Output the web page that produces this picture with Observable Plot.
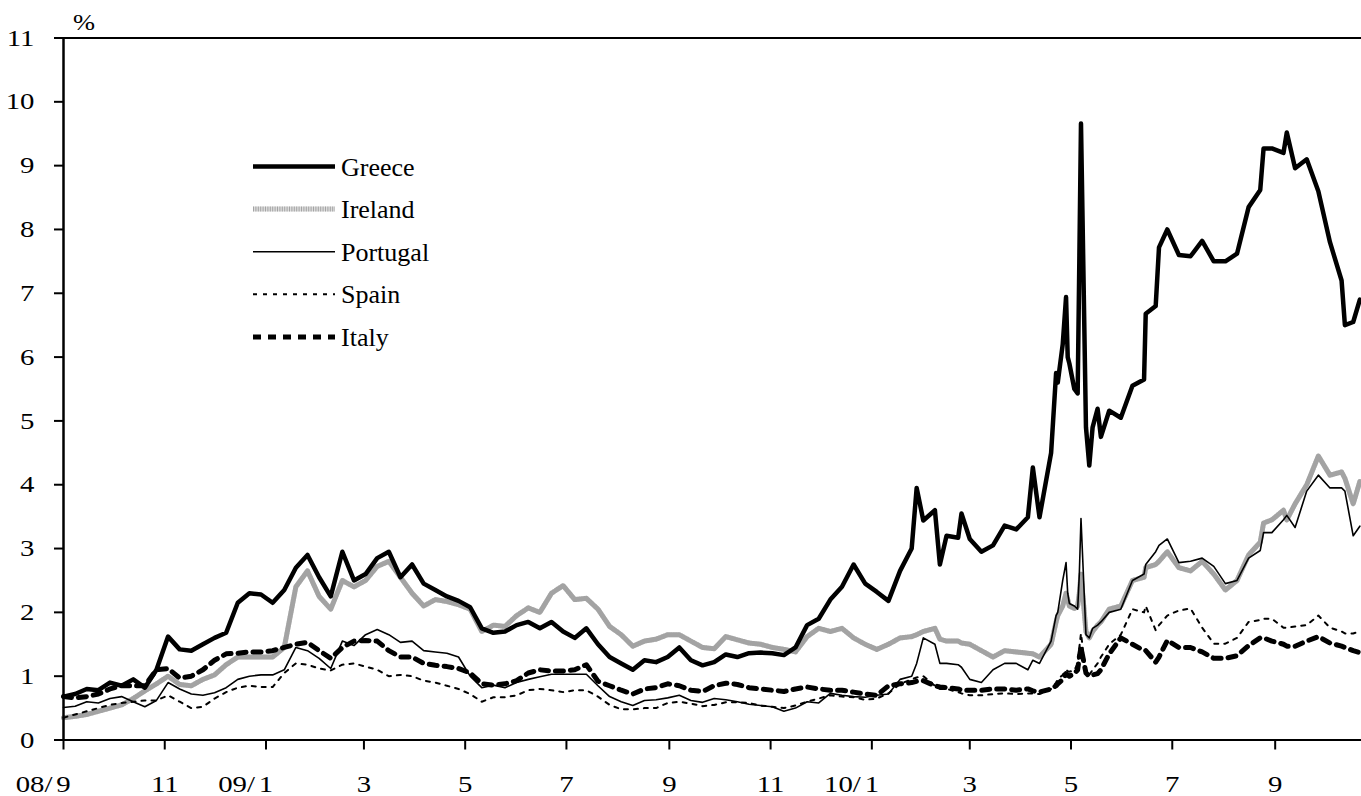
<!DOCTYPE html>
<html>
<head>
<meta charset="utf-8">
<script src="https://cdn.jsdelivr.net/npm/d3@7"></script>
<script src="https://cdn.jsdelivr.net/npm/@observablehq/plot@0.6"></script>
<style>
  html, body { margin: 0; padding: 0; background: #fff; }
  #wrap { position: relative; width: 1361px; height: 796px; overflow: hidden; }
  #overlay { position: absolute; left: 0; top: 0; pointer-events: none; }
</style>
</head>
<body>
<div id="wrap"></div>
<script>
// ---- Data (weekly readings, with extra days around sharp moves) ----
const dates = [
  "2008-09-01","2008-09-08","2008-09-15","2008-09-22","2008-09-29","2008-10-06","2008-10-13","2008-10-20","2008-10-27",
  "2008-11-03","2008-11-10","2008-11-17","2008-11-24","2008-12-01","2008-12-08","2008-12-15","2008-12-22","2008-12-29",
  "2009-01-05","2009-01-12","2009-01-19","2009-01-26","2009-02-02","2009-02-09","2009-02-16","2009-02-23","2009-03-02",
  "2009-03-09","2009-03-16","2009-03-23","2009-03-30","2009-04-06","2009-04-13","2009-04-20","2009-04-27","2009-05-04",
  "2009-05-11","2009-05-18","2009-05-25","2009-06-01","2009-06-08","2009-06-15","2009-06-22",
  "2009-06-29","2009-07-06","2009-07-13","2009-07-20","2009-07-27","2009-08-03","2009-08-10","2009-08-17","2009-08-24",
  "2009-08-31","2009-09-07","2009-09-14","2009-09-21","2009-09-28","2009-10-05","2009-10-12","2009-10-19","2009-10-26",
  "2009-11-02","2009-11-09","2009-11-16","2009-11-23","2009-11-30","2009-12-07","2009-12-14","2009-12-21","2009-12-28",
  "2010-01-04","2010-01-11","2010-01-18","2010-01-25","2010-01-28","2010-02-01","2010-02-08","2010-02-11","2010-02-15",
  "2010-02-22","2010-02-24","2010-03-01","2010-03-08","2010-03-15","2010-03-22","2010-03-29","2010-04-05","2010-04-08",
  "2010-04-12","2010-04-19","2010-04-22","2010-04-23","2010-04-26","2010-04-28","2010-04-29","2010-04-30","2010-05-03",
  "2010-05-05","2010-05-06","2010-05-07","2010-05-10","2010-05-12","2010-05-14","2010-05-17","2010-05-19","2010-05-24",
  "2010-05-31","2010-06-07","2010-06-14","2010-06-15","2010-06-21","2010-06-23","2010-06-28","2010-07-05","2010-07-12",
  "2010-07-19","2010-07-26","2010-08-02","2010-08-09","2010-08-16","2010-08-23","2010-08-25","2010-08-30","2010-09-06",
  "2010-09-08","2010-09-13","2010-09-20","2010-09-27","2010-10-04","2010-10-11","2010-10-13","2010-10-18","2010-10-22"
];

const greece = [
  0.68,0.72,0.8,0.78,0.9,0.85,0.95,0.82,1.1,1.62,1.42,1.4,1.5,1.6,1.68,2.15,2.3,2.28,
  2.15,2.35,2.7,2.9,2.55,2.25,2.95,2.5,2.6,2.85,2.95,2.55,2.75,2.45,2.35,2.25,2.18,2.08,1.75,1.68,1.7,1.8,1.85,1.75,1.85,1.7,
  1.6,1.75,1.5,1.3,1.2,1.1,1.25,1.22,1.3,1.45,1.25,1.17,1.22,1.34,1.3,1.36,1.37,1.36,1.33,1.45,1.8,1.9,2.2,2.4,2.75,2.45,
  2.32,2.18,2.65,3.0,3.95,3.44,3.6,2.75,3.2,3.17,3.55,3.15,2.95,3.05,3.36,3.3,3.49,4.27,3.49,4.5,5.75,5.6,6.2,6.94,6.0,5.9,5.5,
  5.43,7.5,9.66,4.9,4.3,4.9,5.19,4.75,5.16,5.05,5.55,5.65,6.68,6.8,7.72,8.0,7.6,7.58,7.82,7.5,7.5,7.62,8.35,8.62,9.27,9.27,9.2,
  9.52,8.96,9.1,8.6,7.8,7.2,6.5,6.55,6.9
];

const ireland = [
  0.35,0.37,0.4,0.45,0.5,0.55,0.65,0.77,0.88,1.0,0.87,0.85,0.95,1.02,1.18,1.3,1.3,1.3,
  1.3,1.45,2.4,2.65,2.25,2.05,2.5,2.4,2.5,2.72,2.8,2.55,2.3,2.1,2.2,2.17,2.12,2.05,1.7,1.8,1.78,1.95,2.07,2.0,2.3,2.42,
  2.2,2.22,2.05,1.78,1.65,1.47,1.55,1.58,1.65,1.65,1.55,1.45,1.43,1.62,1.57,1.52,1.5,1.45,1.42,1.38,1.62,1.75,1.7,1.75,1.6,1.5,
  1.42,1.5,1.6,1.62,1.65,1.7,1.75,1.58,1.55,1.55,1.52,1.5,1.4,1.3,1.4,1.38,1.36,1.35,1.3,1.5,1.85,1.95,2.1,2.3,2.2,2.1,2.06,
  2.1,2.3,2.6,1.7,1.6,1.7,1.8,1.85,2.05,2.1,2.5,2.55,2.7,2.75,2.8,2.95,2.7,2.65,2.8,2.6,2.35,2.5,2.9,3.1,3.4,3.45,3.6,
  3.45,3.7,4.0,4.45,4.15,4.2,4.1,3.7,4.05
];

const portugal = [
  0.51,0.53,0.6,0.58,0.65,0.68,0.6,0.52,0.62,0.9,0.8,0.72,0.7,0.74,0.82,0.95,1.0,1.02,
  1.02,1.1,1.45,1.4,1.28,1.12,1.55,1.48,1.65,1.73,1.65,1.53,1.55,1.4,1.38,1.36,1.3,1.0,0.82,0.86,0.82,0.9,0.95,0.99,1.03,1.03,
  1.03,1.03,0.85,0.68,0.6,0.54,0.62,0.63,0.66,0.7,0.62,0.59,0.65,0.63,0.6,0.56,0.54,0.52,0.45,0.5,0.6,0.58,0.73,0.7,0.68,0.67,
  0.7,0.72,0.95,1.0,1.2,1.6,1.5,1.2,1.2,1.18,1.14,0.95,0.9,1.1,1.2,1.2,1.1,1.25,1.2,1.55,1.95,2.0,2.5,2.78,2.3,2.14,2.1,
  2.05,2.6,3.47,1.65,1.6,1.75,1.8,1.85,2.0,2.05,2.5,2.6,2.75,2.95,3.05,3.15,2.78,2.8,2.85,2.72,2.45,2.5,2.85,2.97,3.25,3.25,3.45,
  3.52,3.33,3.9,4.15,3.95,3.95,3.9,3.2,3.35
];

const spain = [
  0.35,0.4,0.45,0.5,0.55,0.58,0.6,0.62,0.62,0.7,0.6,0.5,0.52,0.65,0.75,0.82,0.85,0.83,
  0.83,1.05,1.2,1.18,1.12,1.09,1.18,1.2,1.15,1.1,1.0,1.02,1.0,0.93,0.9,0.85,0.8,0.72,0.6,0.67,0.67,0.7,0.78,0.8,0.78,0.75,
  0.78,0.78,0.68,0.55,0.48,0.48,0.5,0.5,0.58,0.6,0.57,0.53,0.55,0.59,0.59,0.58,0.54,0.52,0.5,0.54,0.6,0.65,0.7,0.68,0.67,0.63,
  0.65,0.73,0.88,0.95,0.98,1.0,0.85,0.8,0.8,0.75,0.73,0.7,0.7,0.72,0.73,0.72,0.73,0.73,0.72,0.8,0.9,0.95,1.02,1.1,1.08,1.07,1.09,
  1.2,1.45,1.67,1.04,1.02,1.1,1.2,1.3,1.5,1.65,2.05,2.0,2.1,1.72,1.8,1.95,2.03,2.06,1.76,1.51,1.51,1.6,1.85,1.88,1.9,1.9,1.76,
  1.76,1.78,1.8,1.95,1.76,1.7,1.67,1.67,1.7
];

const italy = [
  0.68,0.66,0.68,0.72,0.8,0.85,0.85,0.85,1.1,1.12,0.97,1.0,1.1,1.25,1.35,1.36,1.38,1.38,
  1.4,1.45,1.5,1.53,1.4,1.28,1.45,1.55,1.56,1.55,1.4,1.3,1.3,1.2,1.17,1.15,1.12,1.05,0.88,0.86,0.88,0.93,1.05,1.1,1.08,1.08,
  1.1,1.18,0.92,0.85,0.78,0.72,0.8,0.82,0.88,0.85,0.78,0.76,0.85,0.89,0.87,0.82,0.8,0.78,0.76,0.8,0.83,0.8,0.78,0.78,0.75,0.72,
  0.7,0.85,0.88,0.9,0.92,0.93,0.85,0.83,0.82,0.8,0.78,0.78,0.78,0.8,0.8,0.78,0.8,0.77,0.75,0.8,0.85,0.88,0.95,1.04,1.02,1.0,1.04,
  1.1,1.3,1.45,1.05,1.0,1.02,1.04,1.1,1.35,1.6,1.5,1.4,1.4,1.22,1.3,1.56,1.45,1.45,1.38,1.28,1.28,1.32,1.48,1.6,1.6,1.55,1.5,
  1.47,1.47,1.55,1.62,1.52,1.47,1.45,1.4,1.37
];

const seriesNames = ["Greece", "Ireland", "Portugal", "Spain", "Italy"];
const monthTicks = ["2008-09-01","2008-11-01","2009-01-01","2009-03-01","2009-05-01","2009-07-01","2009-09-01",
                    "2009-11-01","2010-01-01","2010-03-01","2010-05-01","2010-07-01","2010-09-01"];
const yearPrefixes = [["2008-09-01","08/"],["2009-01-01","09/"],["2010-01-01","10/"]];
const yTicks = [0,1,2,3,4,5,6,7,8,9,10,11];

// ---- Build tables ----
const parse = s => new Date(s + "T00:00:00Z");
const toRows = vals => dates.map((d, i) => ({date: parse(d), value: vals[i]})).filter(r => r.value != null);
const rows = {Greece: toRows(greece), Ireland: toRows(ireland), Portugal: toRows(portugal), Spain: toRows(spain), Italy: toRows(italy)};

const FONT = "'Liberation Serif', 'Times New Roman', serif";
const IRE_BASE = "#dcdcdc", IRE_STRIPE = "#a3a3a3";

const chart = Plot.plot({
  width: 1361,
  height: 796,
  marginLeft: 63,
  marginRight: 0,
  marginTop: 37.5,
  marginBottom: 56.5,
  style: {fontFamily: FONT, fontSize: "24px", color: "#000", background: "#fff", overflow: "visible"},
  x: {type: "utc", domain: [parse("2008-09-01"), parse("2010-10-23")]},
  y: {domain: [0, 11]},
  marks: [
    Plot.axisY({ticks: yTicks, tickSize: 9, tickPadding: 20, tickFormat: d => String(d), label: null, stroke: "#000", strokeWidth: 2, fontSize: 24}),
    Plot.axisX({ticks: monthTicks.map(parse), tickSize: 10, tickPadding: 25, tickFormat: d => String(d.getUTCMonth() + 1), label: null, stroke: "#000", strokeWidth: 2, fontSize: 24}),
    Plot.text(yearPrefixes, {x: d => parse(d[0]), frameAnchor: "bottom", text: d => d[1], textAnchor: "end", lineAnchor: "top", dx: -11, dy: 35, fontSize: 24, fill: "#000"}),
    // Ireland: hatched grey band
    Plot.lineY(rows.Ireland, {x: "date", y: "value", stroke: IRE_BASE, strokeWidth: 5, strokeLinejoin: "round"}),
    Plot.lineY(rows.Ireland, {x: "date", y: "value", stroke: IRE_STRIPE, strokeWidth: 5, strokeDasharray: "1,1.4"}),
    Plot.lineY(rows.Greece, {x: "date", y: "value", stroke: "#000", strokeWidth: 4.5, strokeLinejoin: "round"}),
    Plot.lineY(rows.Portugal, {x: "date", y: "value", stroke: "#000", strokeWidth: 1.6, strokeLinejoin: "round"}),
    Plot.lineY(rows.Spain, {x: "date", y: "value", stroke: "#000", strokeWidth: 2, strokeDasharray: "4,6"}),
    Plot.lineY(rows.Italy, {x: "date", y: "value", stroke: "#000", strokeWidth: 5, strokeDasharray: "8,7"}),
    Plot.ruleY([0, 11], {stroke: "#000", strokeWidth: 2}),
    Plot.ruleX([parse("2008-09-01")], {stroke: "#000", strokeWidth: 2.5})
  ]
});

// The reference's lettering is slightly wider than tall: widen the tick labels around their anchors
// (only the horizontal position is moved into the transform; vertical offsets are left untouched).
chart.querySelectorAll("text").forEach(t => {
  const xa = t.getAttribute("x");
  let x = 0;
  if (xa != null && /^-?[\d.]+$/.test(xa.trim())) { x = +xa; t.removeAttribute("x"); }
  const tr = t.getAttribute("transform") || "";
  t.setAttribute("transform", `${tr} translate(${x},0) scale(1.2,1)`);
});

const wrap = document.getElementById("wrap");
wrap.appendChild(chart);

// ---- Legend and unit label (overlay) ----
const legendStyles = {
  Greece:   [{stroke: "#000", width: 4.5}],
  Ireland:  [{stroke: IRE_BASE, width: 5}, {stroke: IRE_STRIPE, width: 5, dash: "1,1.4"}],
  Portugal: [{stroke: "#000", width: 1.6}],
  Spain:    [{stroke: "#000", width: 2, dash: "4,6"}],
  Italy:    [{stroke: "#000", width: 5, dash: "8,7"}]
};
const svg = d3.select(wrap).append("svg").attr("id", "overlay").attr("width", 1361).attr("height", 796);
seriesNames.forEach((name, i) => {
  const y = 166.5 + i * 42.6;
  legendStyles[name].forEach(s => {
    svg.append("line").attr("x1", 253).attr("x2", 335).attr("y1", y).attr("y2", y)
      .attr("stroke", s.stroke).attr("stroke-width", s.width).attr("stroke-dasharray", s.dash || null);
  });
  svg.append("text").attr("x", 341).attr("y", y).attr("dy", "0.35em")
    .attr("font-family", FONT).attr("font-size", 26).attr("fill", "#000").text(name);
});
svg.append("text").attr("transform", "translate(84,22) scale(1.15,1)").attr("dy", "0.35em").attr("text-anchor", "middle")
  .attr("font-family", FONT).attr("font-size", 23).attr("fill", "#000").text("%");
</script>
</body>
</html>
